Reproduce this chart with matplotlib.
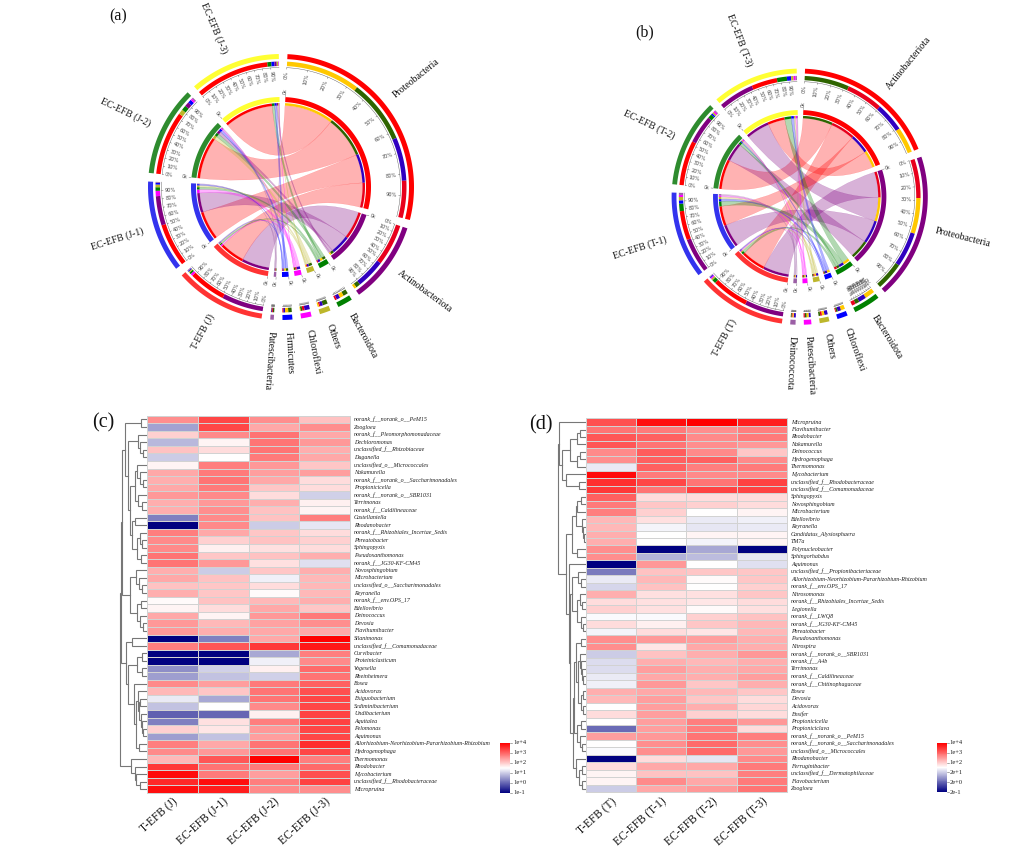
import numpy as np
import matplotlib
matplotlib.use('Agg')
import matplotlib.pyplot as plt
from matplotlib.colors import LinearSegmentedColormap, Normalize
from matplotlib.patches import PathPatch, Polygon
from matplotlib.path import Path

# chord diagram data: percent of each phylum per sample
phyla_a = ['Proteobacteria', 'Actinobacteriota', 'Bacteroidota', 'Others', 'Chloroflexi', 'Firmicutes', 'Patescibacteria']
samples_a = ['T-EFB (J)', 'EC-EFB (J-1)', 'EC-EFB (J-2)', 'EC-EFB (J-3)']
chord_a = [
    [42, 47, 2, 1.5, 2.5, 1, 1],
    [49, 33, 4, 3, 6, 2, 1],
    [72, 5, 5.5, 5.6, 2, 4, 1.5],
    [84, 2.5, 4.5, 1.5, 0.7, 3.5, 0.3],
]
phyla_b = ['Actinobacteriota', 'Proteobacteria', 'Bacteroidota', 'Chloroflexi', 'Others', 'Patescibacteria', 'Deinococcota']
samples_b = ['T-EFB (T)', 'EC-EFB (T-1)', 'EC-EFB (T-2)', 'EC-EFB (T-3)']
chord_b = [
    [44, 47, 4.5, 1, 2, 1.5, 1],
    [35, 42, 9, 4, 4, 2.5, 2.5],
    [54, 34, 5, 2, 2, 2, 1],
    [31, 43, 12, 5, 3, 2.5, 1.5],
]
phylum_colors_a = ['#FF0000', '#800080', '#008000', '#BDB72B', '#FF00FF', '#0000FF', '#9B5FA5']
phylum_colors_b = ['#FF0000', '#800080', '#008000', '#0000FF', '#BDB72B', '#FF00FF', '#9B5FA5']
sample_colors = ['#FF3333', '#3333EE', '#2E8B2E', '#FFFF33']
sample_stack_colors = ['#E8001C', '#3000C0', '#2E6400', '#FFC800']

# heatmap (c): log10 abundance, columns T, J-1, J-2, J-3
genera_c = [
    'norank_f__norank_o__PeM15', 'Zoogloea', 'norank_f__Pleomorphomonadaceae', 'Dechloromonas',
    'unclassified_f__Rhizobiaceae', 'Duganella', 'unclassified_o__Micrococcales', 'Nakamurella',
    'norank_f__norank_o__Saccharimonadales', 'Propionicicella', 'norank_f__norank_o__SBR1031', 'Terrimonas',
    'norank_f__Caldilineaceae', 'Castellaniella', 'Rhodanobacter', 'norank_f__Rhizobiales_Incertae_Sedis',
    'Phreatobacter', 'Sphingopyxis', 'Pseudoxanthomonas', 'norank_f__JG30-KF-CM45', 'Novosphingobium',
    'Microbacterium', 'unclassified_o__Saccharimonadales', 'Reyranella', 'norank_f__env.OPS_17', 'Bdellovibrio',
    'Deinococcus', 'Devosia', 'Flavihumibacter', 'Silanimonas', 'unclassified_f__Comamonadaceae', 'Curvibacter',
    'Proteiniclasticum', 'Vogesella', 'Rheinheimera', 'Bosea', 'Acidovorax', 'Exiguobacterium',
    'Sediminibacterium', 'Undibacterium', 'Aquitalea', 'Pelomonas', 'Aquimonas',
    'Allorhizobium-Neorhizobium-Pararhizobium-Rhizobium', 'Hydrogenophaga', 'Thermomonas', 'Rhodobacter',
    'Mycobacterium', 'unclassified_f__Rhodobacteraceae', 'Micropruina',
]
values_c = [
    [2.6, 3.3, 2.6, 2.1], [0.6, 3.3, 2.35, 2.6], [1.95, 2.65, 2.85, 2.35], [0.8, 1.6, 2.85, 2.5],
    [2.1, 1.85, 2.85, 2.3], [1.0, 1.5, 2.8, 2.35], [1.6, 2.75, 2.5, 2.05], [2.35, 2.8, 2.45, 2.45],
    [2.3, 2.85, 2.35, 1.85], [2.35, 2.8, 2.05, 1.85], [2.5, 2.65, 1.85, 1.05], [2.3, 2.5, 2.3, 1.65],
    [2.3, 2.6, 2.1, 1.6], [0.25, 2.65, 2.1, 2.75], [-1, 2.65, 1.0, 1.25], [2.75, 2.35, 2.05, 1.85],
    [2.65, 1.95, 2.1, 1.95], [2.65, 1.65, 1.8, 1.85], [2.85, 2.05, 2.1, 2.3], [2.85, 2.5, 1.8, 1.2],
    [2.3, 1.0, 2.05, 2.3], [2.35, 2.1, 1.35, 2.2], [2.1, 2.05, 1.85, 2.2], [2.3, 2.05, 1.55, 2.2],
    [1.55, 2.1, 2.2, 2.3], [1.6, 1.85, 2.35, 2.05], [2.35, 1.6, 2.5, 2.8], [2.5, 2.2, 2.4, 2.6],
    [2.5, 2.3, 2.35, 2.35], [-1, 0.25, 2.35, 4], [2.75, 3.15, 3.45, 3.75], [-1, -1, 0.65, 2.75],
    [-1, -1, 1.35, 2.65], [0.4, 1.05, 1.65, 2.95], [0.55, 0.9, 1.05, 2.85], [2.65, 2.45, 2.8, 3.05],
    [2.2, 2.05, 2.85, 3.2], [1.3, 0.65, 2.85, 3.3], [0.9, 1.5, 2.65, 3.3], [-0.05, 0.0, 1.65, 3.35],
    [0.25, 1.8, 2.75, 3.35], [1.95, 1.75, 2.5, 3.3], [0.55, 0.9, 2.45, 3.3], [2.75, 2.35, 2.85, 3.55],
    [2.65, 2.5, 2.85, 3.3], [2.2, 3.15, 4, 2.75], [3.45, 2.85, 2.8, 2.95], [3.9, 2.8, 2.45, 3.2],
    [3.6, 3.85, 2.75, 3.35], [3.85, 3.7, 2.65, 2.6],
]

# heatmap (d)
genera_d = [
    'Micropruina', 'Flavihumibacter', 'Rhodobacter', 'Nakamurella', 'Deinococcus', 'Hydrogenophaga', 'Thermomonas',
    'Mycobacterium', 'unclassified_f__Rhodobacteraceae', 'unclassified_f__Comamonadaceae', 'Sphingopyxis',
    'Novosphingobium', 'Microbacterium', 'Bdellovibrio', 'Reyranella', 'Candidatus_Alysiosphaera', 'TM7a',
    'Polynucleobacter', 'Sphingorhabdus', 'Aquimonas', 'unclassified_f__Propionibacteriaceae',
    'Allorhizobium-Neorhizobium-Pararhizobium-Rhizobium', 'norank_f__env.OPS_17', 'Nitrosomonas',
    'norank_f__Rhizobiales_Incertae_Sedis', 'Legionella', 'norank_f__LWQ8', 'norank_f__JG30-KF-CM45', 'Phreatobacter',
    'Pseudoxanthomonas', 'Nitrospira', 'norank_f__norank_o__SBR1031', 'norank_f__A4b', 'Terrimonas',
    'norank_f__Caldilineaceae', 'norank_f__Chitinophagaceae', 'Bosea', 'Devosia', 'Acidovorax', 'Ensifer',
    'Propionicicella', 'Propioniciclava', 'norank_f__norank_o__PeM15', 'norank_f__norank_o__Saccharimonadales',
    'unclassified_o__Micrococcales', 'Rhodanobacter', 'Ferruginibacter', 'unclassified_f__Dermatophilaceae',
    'Flavobacterium', 'Zoogloea',
]
values_d = [
    [3.2, 3.85, 4, 3.7], [2.85, 2.8, 2.6, 2.75], [3.15, 3.05, 2.65, 2.8], [3.15, 2.85, 2.6, 2.5],
    [2.65, 3.1, 2.65, 2.05], [2.6, 3.05, 3.05, 2.65], [1.3, 3.05, 2.75, 2.8], [3.9, 2.8, 2.65, 2.65],
    [3.55, 3.3, 2.85, 3.35], [3.45, 2.85, 3.35, 3.35], [3.05, 1.85, 1.85, 1.85], [2.8, 2.05, 1.95, 1.85],
    [2.75, 1.95, 1.5, 1.6], [2.2, 1.8, 1.3, 1.35], [2.2, 1.4, 1.25, 1.3], [2.3, 1.5, 1.6, 1.6],
    [2.3, 1.5, 1.4, 1.6], [2.6, -1, 0.65, -1], [2.6, 0.75, 0.85, 1.25], [-1, 2.5, 1.5, 1.2],
    [0.2, 2.1, 2.05, 2.05], [1.3, 2.2, 1.55, 2.05], [1.1, 2.1, 1.5, 1.95], [2.3, 1.8, 1.8, 2.05],
    [1.85, 1.8, 1.75, 1.85], [1.95, 1.8, 1.55, 1.8], [1.45, 1.45, 1.95, 2.1], [1.85, 1.65, 2.05, 2.2],
    [1.4, 1.85, 1.75, 2.2], [2.6, 2.5, 2.45, 2.3], [2.6, 1.75, 2.35, 2.3], [1.0, 2.1, 2.3, 2.5],
    [1.15, 2.3, 2.2, 2.3], [1.15, 2.45, 2.3, 2.35], [1.3, 2.35, 2.3, 2.45], [1.35, 2.5, 2.05, 2.3],
    [2.3, 2.35, 2.2, 2.05], [2.2, 2.45, 2.05, 1.85], [1.5, 2.45, 2.3, 1.9], [1.85, 2.45, 1.95, 1.85],
    [1.5, 2.45, 2.75, 2.5], [0.05, 2.45, 2.75, 1.85], [2.45, 2.5, 2.85, 2.75], [1.5, 2.6, 2.95, 2.6],
    [1.45, 2.6, 2.95, 2.5], [-1, 1.85, 1.25, 2.65], [1.85, 2.35, 2.35, 2.8], [1.6, 2.1, 2.1, 2.75],
    [1.6, 2.65, 2.35, 2.8], [1.0, 2.35, 2.5, 2.85],
]

# dendrograms: (height, upper, lower), L is a leaf, rows taken top to bottom
L = None
tree_c = (27.5,
          (26.5,
           (25,
            (22, (6, L, L),
             (19, (9, L, (7, L, (4, L, L))),
              (17, (12, (10, L, (7, L, (4, L, L))), (9, L, (5, L, L))),
               (15, (12, L, L), (10, (7, L, (5, L, L)), (6, L, L)))))),
            (17, (11, L, (8, L, (5, L, L))), (10, (6, L, L), (7, L, (4, L, L))))),
           (21, (15, L, L),
            (19, (10, (5, L, L), (5, L, L)),
             (13, L, (11, (9.5, L, (8, (7, L, L), (6, L, (5, L, (4, L, L))))), (8, L, L)))))),
          (16, L, (12, L, (11, L, (7, L, L)))))
tree_d = (27.5,
          (27, L,
           (24, (16, (9, (6, L, L), L), (9, (6, L, L), L)), (20, L, (7, L, L)))),
          (20,
           (14, (10, (9, (5, L, L), L), (4, L, (3, L, (2, L, L)))), (9, L, L)),
           (17, L,
            (15.5,
             (14, (8, L, (5, L, L)), (9, (6, L, (4, L, L)), (5, L, (3, L, L)))),
             (12.5,
              (11.5,
               (10, (4.5, L, L),
                (8, (6, L, (4.5, L, (3.5, L, (2.5, L, L)))), (5, (3, L, L), (3, L, L)))),
               (9, (5, L, L), (6, L, (4, L, L)))),
              (10, L, (7, (4, L, L), (4, L, L))))))))

colorbar_labels_c = ['1e+4', '1e+3', '1e+2', '1e+1', '1e+0', '1e-1']
colorbar_labels_d = ['1e+4', '1e+3', '1e+2', '2e+1', '2e+0', '2e-1']
colorbar_levels = [4, 3, 2, 1, 0, -1]

SERIF = 'Liberation Serif'
cmap = LinearSegmentedColormap.from_list('navy_white_red', ['#000080', '#FFFFFF', '#FF0000'])
norm = Normalize(-1, 4)

fig = plt.figure(figsize=(10.16, 8.61), dpi=100)
ax = fig.add_axes([0, 0, 1, 1])
ax.set_xlim(0, 1016)
ax.set_ylim(861, 0)
ax.axis('off')


def polar(cx, cy, r, deg):
    t = np.radians(deg)
    return cx + r * np.sin(t), cy - r * np.cos(t)


def band(cx, cy, r0, r1, a0, a1, color):
    a = np.linspace(a0, a1, max(int(abs(a1 - a0)) + 2, 3))
    xo, yo = polar(cx, cy, r1, a)
    xi, yi = polar(cx, cy, r0, a[::-1])
    pts = np.column_stack([np.r_[xo, xi], np.r_[yo, yi]])
    ax.add_patch(Polygon(pts, closed=True, fc=color, ec='none', zorder=3))


def ribbon(cx, cy, r, p0, p1, s0, s1, color):
    verts, codes = [], []
    for i, (a0, a1) in enumerate([(p0, p1), (s0, s1)]):
        a = np.linspace(a0, a1, max(int(abs(a1 - a0) * 2) + 2, 3))
        x, y = polar(cx, cy, r, a)
        if i == 0:
            verts.append((x[0], y[0]))
            codes.append(Path.MOVETO)
        else:
            verts += [(cx, cy), (x[0], y[0])]
            codes += [Path.CURVE3, Path.CURVE3]
        verts += list(zip(x[1:], y[1:]))
        codes += [Path.LINETO] * (len(a) - 1)
    verts += [(cx, cy), verts[0]]
    codes += [Path.CURVE3, Path.CURVE3]
    ax.add_patch(PathPatch(Path(verts, codes), fc=color, ec=color, lw=0.2, alpha=0.3, zorder=2))


def radial_text(cx, cy, r, deg, text, size, color, family=None, flip=190):
    x, y = polar(cx, cy, r, deg)
    d = deg % 360
    if d <= flip:
        rot, ha = 90 - d, 'left'
    else:
        rot, ha = 270 - d, 'right'
    ax.text(x, y, text, rotation=rot, rotation_mode='anchor', ha=ha, va='center',
            fontsize=size, color=color, family=family)


def draw_chord(cx, cy, k, phyla, samples, matrix, phylum_colors, start, label_shift, gap=3.75):
    m = np.array(matrix, dtype=float)
    names = phyla + samples
    totals = np.r_[m.sum(axis=0), m.sum(axis=1)]
    unit = (360 - gap * len(names)) / totals.sum()
    colors = phylum_colors + sample_colors

    a = start
    starts = []
    for tot in totals:
        starts.append(a)
        a += tot * unit + gap

    # slots inside each sector, biggest part first
    p_slots, s_slots = {}, {}
    np_, ns = len(phyla), len(samples)
    for i in range(np_):
        pos = starts[i]
        for j in sorted(range(ns), key=lambda q: -m[q, i]):
            p_slots[j, i] = (pos, pos + m[j, i] * unit)
            pos += m[j, i] * unit
    for j in range(ns):
        pos = starts[np_ + j]
        for i in sorted(range(np_), key=lambda q: -m[j, q]):
            s_slots[j, i] = (pos, pos + m[j, i] * unit)
            pos += m[j, i] * unit

    order = sorted(p_slots, key=lambda q: -m[q])
    for j, i in order:
        ribbon(cx, cy, 81.5 * k, *p_slots[j, i], *s_slots[j, i], phylum_colors[i])
    for (j, i), (a0, a1) in p_slots.items():
        band(cx, cy, 81.5 * k, 84 * k, a0, a1, sample_stack_colors[j])
        band(cx, cy, 121 * k, 125.5 * k, a0, a1, sample_stack_colors[j])
    for (j, i), (a0, a1) in s_slots.items():
        band(cx, cy, 81.5 * k, 84 * k, a0, a1, phylum_colors[i])
        band(cx, cy, 121 * k, 125.5 * k, a0, a1, phylum_colors[i])

    for n, (s, tot, name, c) in enumerate(zip(starts, totals, names, colors)):
        a1 = s + tot * unit
        band(cx, cy, 85 * k, 90 * k, s, a1, c)
        band(cx, cy, 128 * k, 133 * k, s, a1, c)

        # axis with a tick every 10 %
        arc = np.linspace(s, a1, 30)
        ax.plot(*polar(cx, cy, 119.5 * k, arc), color='#555555', lw=0.3, zorder=3)
        for pct in range(0, 100, 10):
            t = s + (a1 - s) * pct / 100
            xs, ys = polar(cx, cy, np.array([118 * k, 119.5 * k]), t)
            ax.plot(xs, ys, color='#555555', lw=0.3, zorder=3)
            if a1 - s > 12:
                d = t % 360
                x, y = polar(cx, cy, 116.5 * k, t)
                rot, ha = (90 - d, 'right') if d <= 180 else (270 - d, 'left')
                ax.text(x, y, f'{pct}%', rotation=rot, rotation_mode='anchor', ha=ha, va='center',
                        fontsize=3.6, color='#444444')
        xs, ys = polar(cx, cy, np.array([90.5 * k, 92.5 * k]), s)
        ax.plot(xs, ys, color='#555555', lw=0.3, zorder=3)
        d = s % 360
        x, y = polar(cx, cy, 93.5 * k, s)
        rot, ha = (90 - d, 'left') if d <= 180 else (270 - d, 'right')
        ax.text(x, y, '0k', rotation=rot, rotation_mode='anchor', ha=ha, va='center',
                fontsize=3.4, color='#444444')

        radial_text(cx, cy, 145 * k, (s + a1) / 2 + label_shift[n], name, 7.0, '#111111', SERIF)


def draw_tree(node, x0, rows):
    if node is None:
        return next(rows), 0
    h, upper, lower = node
    ya, ha = draw_tree(upper, x0, rows)
    yb, hb = draw_tree(lower, x0, rows)
    ax.plot([x0 - ha, x0 - h, x0 - h, x0 - hb], [ya, ya, yb, yb], color='#777777', lw=0.8,
            solid_joinstyle='miter', zorder=1)
    return (ya + yb) / 2, h


def draw_heatmap(x0, x1, y0, y1, values, genera, samples, tree, tick_dx):
    v = np.array(values)
    xe = np.linspace(x0, x1, v.shape[1] + 1)
    ye = np.linspace(y0, y1, v.shape[0] + 1)
    ax.pcolormesh(xe, ye, v, cmap=cmap, norm=norm, edgecolors='#D2D2D2', linewidth=0.45, zorder=2)
    yc = (ye[:-1] + ye[1:]) / 2
    xc = (xe[:-1] + xe[1:]) / 2
    for y, name in zip(yc, genera):
        ax.text(x1 + 4, y, name, fontsize=4.3, style='italic', family=SERIF, color='#222222',
                ha='left', va='center')
    for x, name in zip(xc, samples):
        ax.text(x + tick_dx, 800, name, fontsize=8.3, family=SERIF, color='#111111', rotation=42,
                rotation_mode='anchor', ha='right', va='center')
    draw_tree(tree, x0, iter(yc))


def draw_colorbar(x0, x1, y0, y1, labels):
    levels = np.linspace(4, -1, 101)
    ax.pcolormesh([x0, x1], np.linspace(y0, y1, 102), levels[:, None], cmap=cmap, norm=norm, zorder=2)
    for lev, lab in zip(colorbar_levels, labels):
        y = y0 + (4 - lev) / 5 * (y1 - y0)
        ax.plot([x1, x1 + 2], [y, y], color='#666666', lw=0.4)
        ax.text(x1 + 3, y, lab, fontsize=4.7, family=SERIF, color='#222222', va='center')


draw_chord(281, 187, 1.0, phyla_a, samples_a, chord_a, phylum_colors_a, 2.8,
           [-2.5, 0, 0, 0, 0, 0, 0, 0, 0, 0, -2])
draw_chord(799.7, 196.7, 0.963, phyla_b, samples_b, chord_b, phylum_colors_b, 2.4,
           [4, -1, 0, 0, 0, 0, 0, 0, 0, 0, 0])

draw_heatmap(147, 350, 415.7, 793, values_c, genera_c, samples_a, tree_c, 4)
draw_heatmap(585.7, 787, 418.3, 792.3, values_d, genera_d, samples_b, tree_d, 4)
draw_colorbar(500, 510, 743, 793, colorbar_labels_c)
draw_colorbar(936.7, 946.7, 742.7, 792.3, colorbar_labels_d)

for x, y, letter, size in [(118, 16, '(a)', 11.5), (645, 32, '(b)', 11.5), (103, 423, '(c)', 14.5), (541, 425, '(d)', 14.5)]:
    ax.text(x, y, letter, fontsize=size, family=SERIF, color='#111111', ha='center', va='center')

fig.savefig('out.png', dpi=100, facecolor='white')
plt.close(fig)
